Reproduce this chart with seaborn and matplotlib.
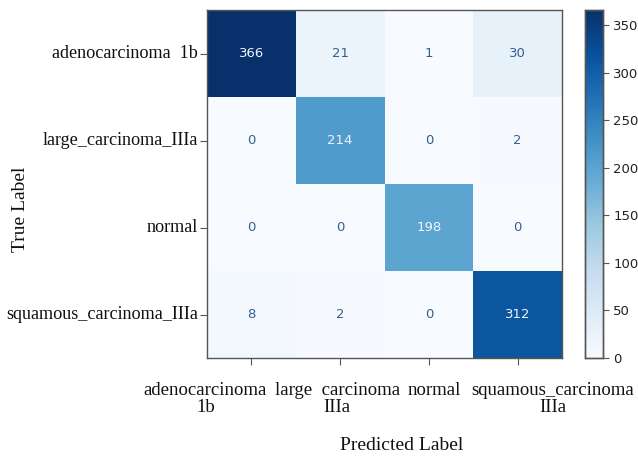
import numpy as np
import pandas as pd
import matplotlib
matplotlib.use("Agg")
import matplotlib.pyplot as plt
import matplotlib.transforms as mtrans
import seaborn as sns

true_labels = ["adenocarcinoma  1b", "large_carcinoma_IIIa", "normal", "squamous_carcinoma_IIIa"]
pred_labels = ["adenocarcinoma\n1b", "large  carcinoma\nIIIa", "normal", "squamous_carcinoma\nIIIa"]
row_adeno = [366, 21, 1, 30]
row_large = [0, 214, 0, 2]
row_normal = [0, 0, 198, 0]
row_squam = [8, 2, 0, 312]
cbar_ticks = [0, 50, 100, 150, 200, 250, 300, 350]

cm = pd.DataFrame([row_adeno, row_large, row_normal, row_squam],
                  index=true_labels, columns=pred_labels)

sns.set_style("white")
serif = ["Liberation Serif", "DejaVu Serif"]

fig = plt.figure(figsize=(6.38, 4.58), dpi=100)
ax = fig.add_axes([207/638, 1-358/458, 355/638, 348/458])
cax = fig.add_axes([585/638, 1-358/458, 18/638, 348/458])

vmax = cm.values.max()
sns.heatmap(cm, ax=ax, cbar_ax=cax, cmap="Blues", vmin=0, vmax=vmax,
            annot=False, square=False, linewidths=0)

thresh = vmax / 2.0
for i in range(cm.shape[0]):
    for j in range(cm.shape[1]):
        v = cm.values[i, j]
        col = "#eef4fb" if v > thresh else "#34608f"
        ax.text(j + 0.5, i + 0.5, f"{v}", ha="center", va="center",
                fontsize=9.5, color=col, family="DejaVu Sans")

for s in ax.spines.values():
    s.set_visible(True)
    s.set_color("#555555")
    s.set_linewidth(1.0)

ax.tick_params(axis="both", which="both", length=5, width=0.8, color="#555555",
               left=True, bottom=True)
ax.tick_params(axis="x", pad=12)
ax.tick_params(axis="y", pad=1.5)
ax.set_yticklabels(true_labels, rotation=0, fontsize=13.1, family=serif, color="#111111")
ax.set_xticklabels(pred_labels, rotation=0, fontsize=13.5, family=serif, color="#111111",
                   linespacing=1.0, va="top")

offsets_px = [-46, -3, 5, 35]
for lab, dx in zip(ax.get_xticklabels(), offsets_px):
    lab.set_transform(lab.get_transform() + mtrans.ScaledTranslation(dx/100, 0, fig.dpi_scale_trans))

ax.set_xlabel("Predicted Label", fontsize=14, family=serif, color="#111111")
ax.set_ylabel("True Label", fontsize=14, family=serif, color="#111111")
ax.xaxis.set_label_coords((402-207)/355, (358-446)/348)
ax.xaxis.label.set_va("center")
ax.yaxis.set_label_coords((20-207)/355, (358-209)/348)
ax.yaxis.label.set_va("center")

cax.set_yticks(cbar_ticks)
cax.set_yticklabels([str(t) for t in cbar_ticks], fontsize=9.5, family="DejaVu Sans", color="#222222")
cax.tick_params(axis="y", length=4, width=0.8, color="#555555", right=True)
for s in cax.spines.values():
    s.set_visible(True)
    s.set_color("#555555")
    s.set_linewidth(1.0)

fig.savefig("out.png", dpi=100)
